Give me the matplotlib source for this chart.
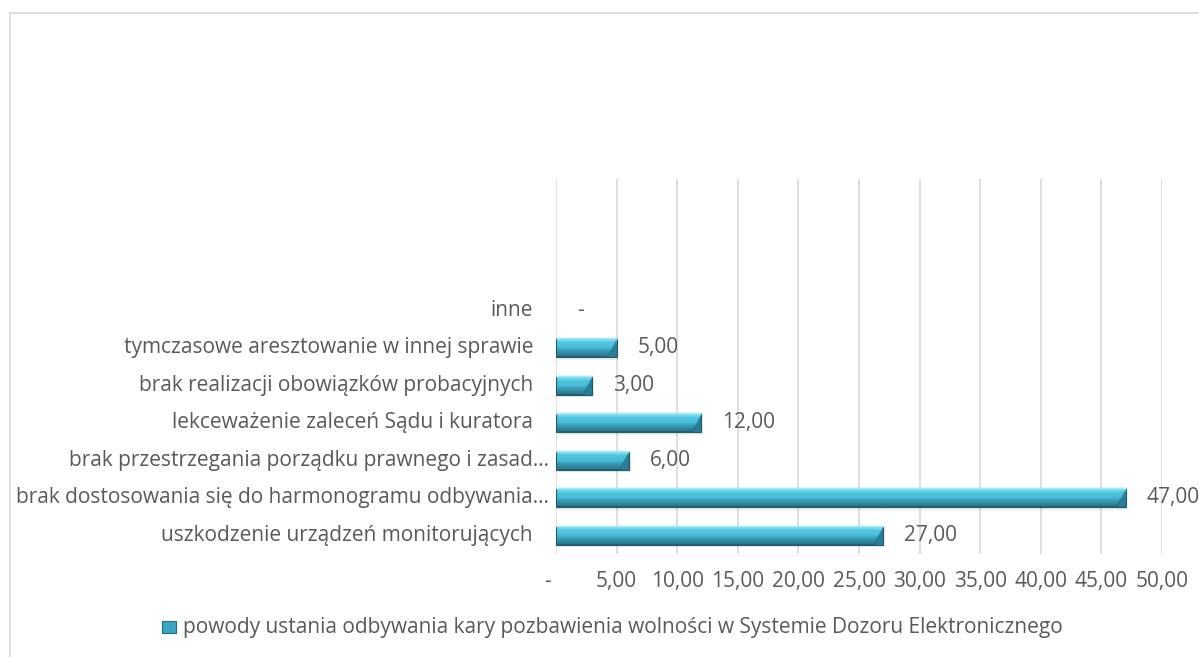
import matplotlib
matplotlib.use("Agg")
import matplotlib.pyplot as plt
import numpy as np
from matplotlib.patches import Polygon, Rectangle
from matplotlib.colors import LinearSegmentedColormap
from matplotlib.transforms import ScaledTranslation
from matplotlib.lines import Line2D

categories = [
    "uszkodzenie urządzeń monitorujących",
    "brak dostosowania się do harmonogramu odbywania…",
    "brak przestrzegania porządku prawnego i zasad…",
    "lekceważenie zaleceń Sądu i kuratora",
    "brak realizacji obowiązków probacyjnych",
    "tymczasowe aresztowanie w innej sprawie",
    "inne",
]
values = [27, 47, 6, 12, 3, 5, 0]
truncated = [False, True, True, False, False, False, False]
xticks = [0, 5, 10, 15, 20, 25, 30, 35, 40, 45, 50]
xticklabels = ["-   ", "5,00", "10,00", "15,00", "20,00", "25,00", "30,00",
               "35,00", "40,00", "45,00", "50,00"]
legend_label = "powody ustania odbywania kary pozbawienia wolności w Systemie Dozoru Elektronicznego"

W, H = 1199, 657
DPI = 100
plt.rcParams["font.family"] = ["Open Sans", "DejaVu Sans"]
TXT = "#595959"
FS = 15

fig = plt.figure(figsize=(W / DPI, H / DPI), dpi=DPI)
fig.patch.set_facecolor("white")

# outer chart border (light gray, left and top visible)
fig.add_artist(Line2D([10 / W, 10 / W], [0, 1 - 13 / H], color="#d9d9d9", lw=1.2,
                      transform=fig.transFigure))
fig.add_artist(Line2D([10 / W, 1], [1 - 13 / H, 1 - 13 / H], color="#d9d9d9", lw=1.2,
                      transform=fig.transFigure))

left, right, top, bottom = 556, 1162, 179, 554
ax = fig.add_axes([left / W, 1 - bottom / H, (right - left) / W, (bottom - top) / H])
ax.set_xlim(0, 50)
ax.set_ylim(-0.5, 9.5)
for s in ax.spines.values():
    s.set_visible(False)
ax.set_xticks(xticks)
ax.set_xticklabels(xticklabels)
ax.tick_params(axis="x", length=0, pad=12, labelsize=FS, labelcolor=TXT)
ax.set_yticks([])
ax.grid(axis="x", color="#d9d9d9", lw=1.2)
ax.set_axisbelow(True)

y = np.arange(len(categories))
h = 0.5
bars = ax.barh(y, values, height=h, color="#45bcd8", edgecolor="none", zorder=2)

cmap = LinearSegmentedColormap.from_list(
    "bev", [(0.0, "#1d5a6a"), (0.07, "#2c7c90"), (0.35, "#3a9cb5"),
            (0.50, "#48bcd8"), (0.80, "#52c8e3"), (0.90, "#80dcf0"), (1.0, "#9ee6f6")])
grad = np.linspace(0, 1, 64).reshape(-1, 1)
bx = 0.7   # bevel width in data units
for rect, v, yi in zip(bars.patches, values, y):
    if v <= 0:
        continue
    t, b = yi + h / 2, yi - h / 2
    # soft shadow
    ax.add_patch(Rectangle((0.15, b - 0.07), v, h, facecolor="#000000",
                           alpha=0.07, edgecolor="none", zorder=1.5))
    im = ax.imshow(grad, cmap=cmap, aspect="auto", origin="lower",
                   extent=[0, v, b, t], zorder=2.5)
    im.set_clip_path(rect)
    # right bevel: dark triangle at lower-right, darker seam along the diagonal
    ax.add_patch(Polygon([[v, t - 0.06], [v, b], [v - bx, b]],
                         closed=True, facecolor="#2a7d94", edgecolor="none", zorder=3))
    ax.add_patch(Polygon([[v, t - 0.06], [v - bx, b], [v - bx * 1.05, b + 0.03], [v - 0.05, t - 0.06]],
                         closed=True, facecolor="#1f6a7e", edgecolor="none", zorder=3.05))
    ax.add_patch(Rectangle((0, b), v, h, facecolor="none", edgecolor="#215a6a",
                           lw=0.8, zorder=3.2))
    ax.plot([0, v], [t, t], color="#a8ecf8", lw=1.0, zorder=3.3)

# data labels
off = ScaledTranslation(21 / DPI, 0, fig.dpi_scale_trans)
for v, yi in zip(values, y):
    lab = "-" if v == 0 else f"{v:.2f}".replace(".", ",")
    ax.text(v, yi, lab, ha="left", va="center", fontsize=FS, color=TXT,
            transform=ax.transData + off, clip_on=False)

# category labels
for cat, yi, tr in zip(categories, y, truncated):
    pad = 7 if tr else 23
    ax.text(0, yi, cat, ha="right", va="center", fontsize=FS, color=TXT,
            transform=ax.get_yaxis_transform() + ScaledTranslation(-pad / DPI, 0, fig.dpi_scale_trans))

# legend
ly = 627
fig.add_artist(Rectangle((162 / W, (H - 633) / H), 14 / W, 12 / H, transform=fig.transFigure,
                         facecolor="#3aa6c0", edgecolor="#1f6f80", lw=0.8))
fig.text(183 / W, 1 - ly / H, legend_label, ha="left", va="center", fontsize=FS, color=TXT)

fig.savefig("out.png", dpi=DPI)
